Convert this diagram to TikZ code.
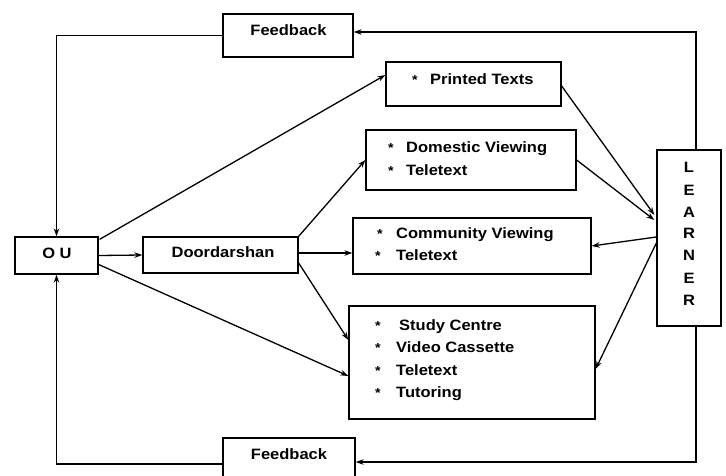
\documentclass[tikz,border=0pt]{standalone}
\usepackage{fontspec}
\setmainfont{Liberation Sans}[FakeStretch=1.1]
\usetikzlibrary{arrows.meta}
\newcommand{\bul}[1]{\makebox[#1][l]{\fontsize{13}{13}\selectfont *}}
\begin{document}
\begin{tikzpicture}[x=1pt,y=-1pt,
  box/.style={draw, line width=1.3pt, inner sep=0pt, rectangle},
  lbl/.style={font=\bfseries\fontsize{15}{18}\selectfont, inner sep=0pt, anchor=base west},
  clbl/.style={font=\bfseries\fontsize{15}{18}\selectfont, inner sep=0pt, anchor=base},
  arr/.style={draw, line width=1.3pt, -{Stealth[length=8pt,width=5.5pt]}}]
\useasboundingbox (0,0) rectangle (726,476);
% boxes
\node[box, minimum width=130pt, minimum height=43pt] (topfb) at (288,35.5) {};
\node[box, minimum width=132pt, minimum height=52pt] (botfb) at (289,464) {};
\node[box, minimum width=83pt, minimum height=37pt] (ou) at (56.5,255.5) {};
\node[box, minimum width=155pt, minimum height=36pt] (dd) at (220.5,255) {};
\node[box, minimum width=175pt, minimum height=44pt] (pt) at (473.5,84) {};
\node[box, minimum width=210pt, minimum height=60pt] (dom) at (471,160) {};
\node[box, minimum width=238pt, minimum height=56pt] (com) at (472,246) {};
\node[box, minimum width=246pt, minimum height=113pt] (sc) at (472,362.5) {};
\node[box, minimum width=64pt, minimum height=176pt] (lrn) at (689,238) {};
% texts
\node[clbl] (tfbt) at (288.5,36) {Feedback};
\node[clbl] (bfbt) at (289,459) {Feedback};
\node[clbl] (out) at (57,258) {O U};
\node[clbl] (ddt) at (223,257) {Doordarshan};
\node[lbl] (ptt) at (412,85) {\bul{18pt}Printed Texts};
\node[lbl] (dom1) at (388,153) {\bul{18pt}Domestic Viewing};
\node[lbl] (dom2) at (388,176) {\bul{18pt}Teletext};
\node[lbl] (com1) at (377,238) {\bul{19pt}Community Viewing};
\node[lbl] (com2) at (375,260) {\bul{21pt}Teletext};
\node[lbl] (sc1) at (375,330) {\bul{24pt}Study Centre};
\node[lbl] (sc2) at (375,352) {\bul{21pt}Video Cassette};
\node[lbl] (sc3) at (375,375) {\bul{21pt}Teletext};
\node[lbl] (sc4) at (375,397) {\bul{21pt}Tutoring};
\node[clbl] (l1) at (689,173) {L};
\node[clbl] (l2) at (689,195.5) {E};
\node[clbl] (l3) at (689,217) {A};
\node[clbl] (l4) at (689,238.5) {R};
\node[clbl] (l5) at (689,260) {N};
\node[clbl] (l6) at (689,283) {E};
\node[clbl] (l7) at (689,305) {R};
% connectors
\draw[arr] (topfb.west) -| (ou.north);
\draw[arr] (botfb.west) -| (ou.south);
\draw[arr] ([xshift=1pt,yshift=-3pt]ou.north east) -- ([yshift=9pt]pt.west);
\draw[arr] (ou.east) -- (dd.west);
\draw[arr] ([yshift=-9pt]ou.east) -- ([yshift=-13.5pt]sc.west);
\draw[arr] (dd.north east) -- (dom.west);
\draw[arr] ([yshift=2pt]dd.east) -- ([yshift=2pt]dd.east -| com.west);
\draw[arr] ([yshift=-8pt]dd.east) -- ([yshift=22.5pt]sc.west);
\draw[arr] ([yshift=-2pt]pt.east) -- ([xshift=-2pt,yshift=23pt]lrn.west);
\draw[arr] (dom.east) -- ([xshift=-2pt,yshift=18pt]lrn.west);
\draw[arr] ([yshift=1pt]lrn.west) -- (com.east);
\draw[arr] ([yshift=-5pt]lrn.west) -- ([yshift=-6.5pt]sc.east);
\draw[arr] ([xshift=7pt]lrn.north) |- ([yshift=3.5pt]topfb.east);
\draw[arr] ([xshift=7pt]lrn.south) |- ([yshift=2pt]botfb.east);
\end{tikzpicture}
\end{document}
